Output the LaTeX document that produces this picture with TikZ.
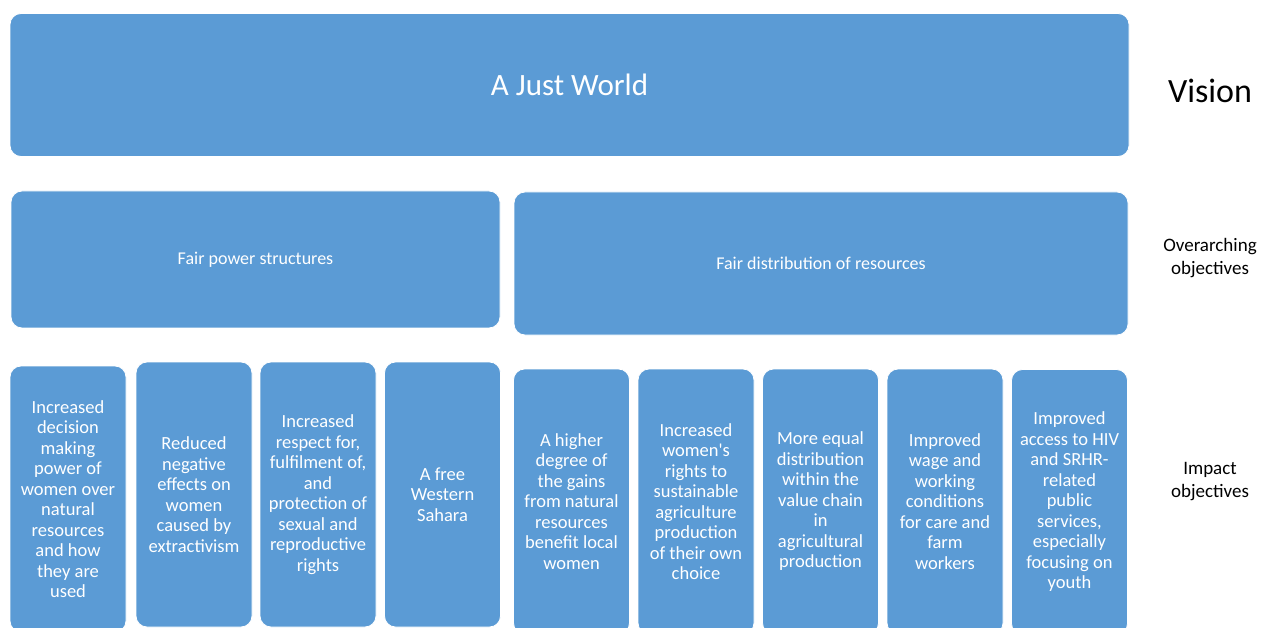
\documentclass[tikz,border=0pt]{standalone}
\usepackage{fontspec}
\setmainfont{Carlito}
\definecolor{boxblue}{HTML}{5B9BD5}
\begin{document}
\begin{tikzpicture}[x=1pt,y=-1pt,
  blk/.style={fill=boxblue, draw=white, line width=0.8pt, rounded corners=11pt, inner sep=0pt, text=white, align=center},
  imp/.style={blk, minimum width=116pt, minimum height=265pt, font=\fontsize{18.5}{20.5}\selectfont},
  lbl/.style={align=center, text=black, inner sep=0pt, font=\fontsize{19}{23}\selectfont}]
\useasboundingbox (0,0) rectangle (1261,628);
\clip (0,0) rectangle (1261,628);
% vision
\node[blk, minimum width=1119pt, minimum height=143pt, font=\fontsize{31}{36}\selectfont] (vision) at (569.5,85) {A Just World};
% overarching
\node[blk, minimum width=489pt, minimum height=137pt, font=\fontsize{18}{22}\selectfont] (power) at (255.5,259.5) {\raisebox{-1pt}{Fair power structures}};
\node[blk, minimum width=614pt, minimum height=143pt, font=\fontsize{18}{22}\selectfont] (distr) at (821,263.5) {Fair distribution of resources};
% impact
\node[imp, minimum height=266pt] (i1) at (68,499) {Increased\\decision\\making\\power of\\women over\\natural\\resources\\and how\\they are\\used};
\node[imp] (i2) at (194,494.5) {Reduced\\negative\\effects on\\women\\caused by\\extractivism};
\node[imp] (i3) at (318,494.5) {Increased\\respect for,\\fulfilment of,\\and\\protection of\\sexual and\\reproductive\\rights};
\node[imp] (i4) at (442.5,494.5) {A free\\Western\\Sahara};
\node[imp] (i5) at (571.5,501.5) {A higher\\degree of\\the gains\\from natural\\resources\\benefit local\\women};
\node[imp] (i6) at (696,501.5) {Increased\\women\textquotesingle s\\rights to\\sustainable\\agriculture\\production\\of their own\\choice};
\node[imp] (i7) at (820.5,501.5) {More equal\\distribution\\within the\\value chain\\in\\agricultural\\production};
\node[imp] (i8) at (945,501.5) {Improved\\wage and\\working\\conditions\\for care and\\farm\\workers};
\node[imp] (i9) at (1069.5,502) {Improved\\access to HIV\\and SRHR-\\related\\public\\services,\\especially\\focusing on\\youth};
% labels
\node[lbl, font=\fontsize{34}{40}\selectfont] (lvision) at (1210,91) {Vision};
\node[lbl] (lover) at (1210,258.5) {Overarching\\objectives};
\node[lbl] (limpact) at (1210,481.5) {Impact\\objectives};
\end{tikzpicture}
\end{document}
